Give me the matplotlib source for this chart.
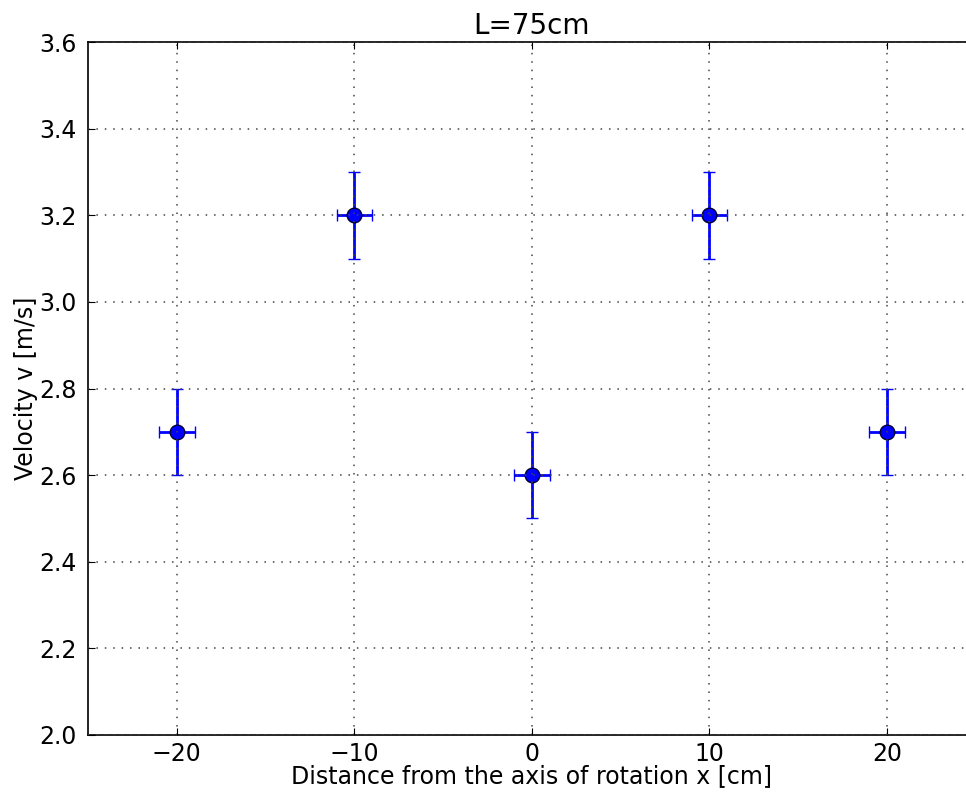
import numpy as np
import matplotlib.pyplot as plt

# measured data
x = [-20, -10, 0, 10, 20]
v = [2.7, 3.2, 2.6, 3.2, 2.7]
x_err = [1, 1, 1, 1, 1]
v_err = [0.1, 0.1, 0.1, 0.1, 0.1]

fig = plt.figure(figsize=(9.66, 7.92), dpi=100)
# axes run past the right edge of the figure (cropped like the original)
ax = fig.add_axes([88 / 966, 57 / 792, 887.5 / 966, 693 / 792])

ax.errorbar(x, v, xerr=x_err, yerr=v_err, fmt='o', color='blue',
            ecolor='blue', markersize=10.5, markeredgecolor='#000033',
            markeredgewidth=1, elinewidth=2, capsize=4, capthick=1.2)

ax.set_xlim(-25, 25)
ax.set_ylim(2.0, 3.6)
ax.set_xticks([-20, -10, 0, 10, 20])
ax.set_yticks(np.arange(2.0, 3.61, 0.2))
ax.set_yticklabels(['2.0', '2.2', '2.4', '2.6', '2.8', '3.0', '3.2', '3.4', '3.6'])
ax.tick_params(direction='in', length=5, labelsize=17, top=True, right=True)
ax.tick_params(axis='x', pad=5)
ax.tick_params(axis='y', pad=8)
ax.set_axisbelow(False)
ax.grid(True, color='#444444', linestyle=(0, (1, 4.5)), linewidth=1.1)

ax.set_xlabel('Distance from the axis of rotation x [cm]', fontsize=17, labelpad=-1)
ax.set_ylabel('Velocity v [m/s]', fontsize=17, labelpad=1)
ax.set_title('L=75cm', fontsize=20, pad=6)
for s in ax.spines.values():
    s.set_linewidth(1.2)

fig.savefig('out.png', dpi=100)
